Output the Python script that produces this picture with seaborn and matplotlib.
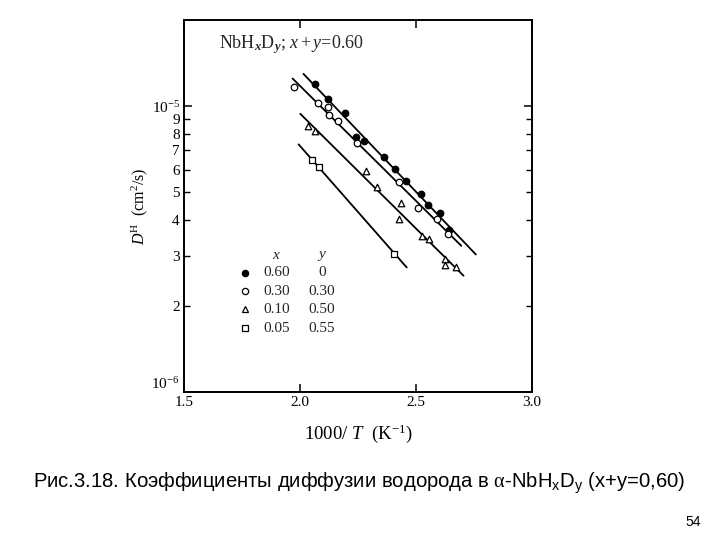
import numpy as np
import pandas as pd
import matplotlib
matplotlib.use("Agg")
import matplotlib.pyplot as plt
from matplotlib.ticker import FixedLocator, FixedFormatter
import seaborn as sns

# data: 1000/T (K^-1) and D^H (cm^2/s)
inv_t_h060 = [2.066, 2.119, 2.196, 2.241, 2.278, 2.360, 2.410, 2.457, 2.522, 2.550, 2.603, 2.644]
d_h060 = [1.196e-5, 1.055e-5, 9.45e-6, 7.80e-6, 7.55e-6, 6.64e-6, 6.03e-6, 5.48e-6, 4.92e-6, 4.50e-6, 4.22e-6, 3.68e-6]

inv_t_h030 = [1.974, 2.078, 2.121, 2.127, 2.162, 2.246, 2.425, 2.507, 2.591, 2.640]
d_h030 = [1.17e-5, 1.024e-5, 9.92e-6, 9.27e-6, 8.90e-6, 7.43e-6, 5.43e-6, 4.40e-6, 4.02e-6, 3.56e-6]

inv_t_h010 = [2.035, 2.065, 2.285, 2.332, 2.435, 2.425, 2.524, 2.558, 2.625, 2.623, 2.672]
d_h010 = [8.52e-6, 8.18e-6, 5.94e-6, 5.22e-6, 4.57e-6, 4.02e-6, 3.51e-6, 3.43e-6, 2.93e-6, 2.79e-6, 2.74e-6]

inv_t_h005 = [2.050, 2.084, 2.407]
d_h005 = [6.48e-6, 6.11e-6, 3.05e-6]

# x-range over which each fitted line is drawn
line_start = [2.015, 1.968, 2.001, 1.994]
line_end = [2.758, 2.695, 2.705, 2.460]

x_vals = ["0.60", "0.30", "0.10", "0.05"]
y_vals = ["0", "0.30", "0.50", "0.55"]

x_ticks = [1.5, 2.0, 2.5, 3.0]
x_ticklabels = ["1.5", "2.0", "2.5", "3.0"]
y_major = [1e-6, 1e-5]
y_major_labels = ["10$^{-6}$", "10$^{-5}$"]
y_minor = [2e-6, 3e-6, 4e-6, 5e-6, 6e-6, 7e-6, 8e-6, 9e-6]
y_minor_labels = ["2", "3", "4", "5", "6", "7", "8", "9"]

sns.set_theme(style="ticks")
plt.rcParams['font.family'] = ['Liberation Serif', 'DejaVu Serif']
plt.rcParams['mathtext.fontset'] = 'custom'
plt.rcParams['mathtext.rm'] = 'Liberation Serif'
plt.rcParams['mathtext.it'] = 'Liberation Serif:italic'
plt.rcParams['mathtext.bf'] = 'Liberation Serif:bold:italic'
plt.rcParams['mathtext.sf'] = 'Liberation Sans'

series = [
    (inv_t_h060, d_h060, 'o', 'black'),
    (inv_t_h030, d_h030, 'o', 'white'),
    (inv_t_h010, d_h010, '^', 'white'),
    (inv_t_h005, d_h005, 's', 'white'),
]

fig = plt.figure(figsize=(7.2, 5.4), dpi=100)
ax = fig.add_axes([184 / 720, 148 / 540, 348 / 720, 372 / 540])

for i, (xs, ds, mk, fc) in enumerate(series):
    df = pd.DataFrame({'x': xs, 'd': ds})
    # straight line fitted in log space
    a, b = np.polyfit(df['x'], np.log10(df['d']), deg=1)
    xl = np.array([line_start[i], line_end[i]])
    sns.lineplot(x=xl, y=10 ** (a * xl + b), ax=ax, color='black', lw=1.3)
    sns.scatterplot(data=df, x='x', y='d', ax=ax, marker=mk, s=22,
                    facecolor=fc, edgecolor='black', linewidth=0.9, zorder=3)

ax.set_yscale('log')
ax.set_xlim(1.5, 3.0)
ax.set_ylim(1e-6, 2e-5)
ax.xaxis.set_major_locator(FixedLocator(x_ticks))
ax.xaxis.set_major_formatter(FixedFormatter(x_ticklabels))
ax.yaxis.set_major_locator(FixedLocator(y_major))
ax.yaxis.set_major_formatter(FixedFormatter(y_major_labels))
ax.yaxis.set_minor_locator(FixedLocator(y_minor))
ax.yaxis.set_minor_formatter(FixedFormatter(y_minor_labels))
ax.tick_params(which='both', direction='in', top=True, right=True,
               labelsize=11, color='black', labelcolor='black', pad=3)
ax.tick_params(which='major', length=6, width=1.1)
ax.tick_params(which='minor', length=4, width=1.0)
for sp in ax.spines.values():
    sp.set_linewidth(1.4)
    sp.set_color('black')

# the 10^-6 label sits a little above its tick in the original
fig.canvas.draw()
ax.get_yticklabels()[0].set_verticalalignment('bottom')

ax.set_xlabel("1000/ $T$  (K$^{-1}$)", fontsize=13.5, color='black')
ax.xaxis.set_label_coords(0.5, -0.083)
ax.set_ylabel("$D^{\\mathrm{H}}$  (cm$^2$/s)", fontsize=11.5, color='black')
ax.yaxis.set_label_coords(-0.098, 0.5)

ax.text(0.31, 0.933, "NbH$_{\\mathbf{x}}$D$_{\\mathbf{y}}$; $x+y$=0.60",
        transform=ax.transAxes, ha='center', va='center', fontsize=13)

# composition table inside the plot
ax.text(0.266, 0.366, "$x$", transform=ax.transAxes, ha='center', va='center', fontsize=11)
ax.text(0.396, 0.366, "$y$", transform=ax.transAxes, ha='center', va='center', fontsize=11)
row_y = [0.320, 0.2715, 0.223, 0.172]
for i, (xs, ds, mk, fc) in enumerate(series):
    ax.plot([0.175], [row_y[i]], marker=mk, ms=4.5, mfc=fc, mec='black', mew=0.9,
            transform=ax.transAxes, ls='none')
    ax.text(0.266, row_y[i], x_vals[i], transform=ax.transAxes, ha='center', va='center', fontsize=11)
    ax.text(0.396, row_y[i], y_vals[i], transform=ax.transAxes, ha='center', va='center', fontsize=11)

fig.text(33 / 720, 1 - 483 / 540,
         "Рис.3.18. Коэффициенты диффузии водорода в $\\mathrm{\\alpha}$-NbH$_\\mathsf{x}$D$_\\mathsf{y}$ (x+y=0,60)",
         family='Liberation Sans', fontsize=14.6, ha='left', va='center', color='black')
fig.text(693 / 720, 1 - 522 / 540, "54", family='Liberation Sans', fontsize=10,
         ha='center', va='center', color='black')

fig.savefig("out.png", dpi=100, facecolor='white')
